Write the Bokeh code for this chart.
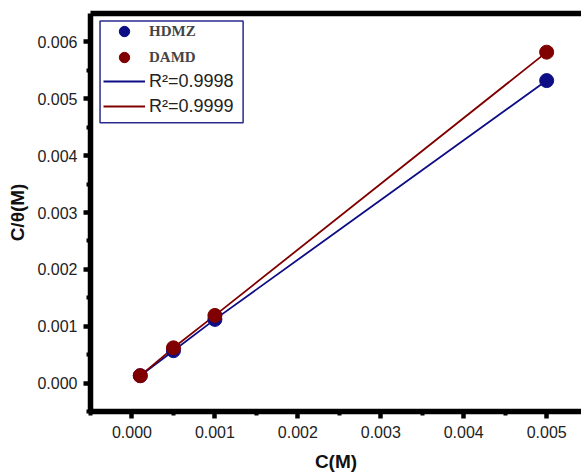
from bokeh.plotting import figure
from bokeh.models import (Legend, LegendItem, LinearAxis, Range1d, PrintfTickFormatter,
                          BoxAnnotation, FixedTicker)
from bokeh.embed import file_html
from bokeh.resources import INLINE

conc = [0.0001, 0.0005, 0.001, 0.005]
hdmz = [0.00013, 0.00057, 0.00112, 0.00532]
damd = [0.00013, 0.00062, 0.00119, 0.00582]
x_ticks = [0.000, 0.001, 0.002, 0.003, 0.004, 0.005]
y_ticks = [0.000, 0.001, 0.002, 0.003, 0.004, 0.005, 0.006]
series_names = ["HDMZ", "DAMD"]
fit_labels = ["R\u00b2=0.9998", "R\u00b2=0.9999"]

BLUE = "#0d0d85"
RED = "#800000"

p = figure(width=581, height=474, output_backend="svg", toolbar_location=None,
           x_range=Range1d(-0.0005, 0.00542), y_range=Range1d(-0.0005, 0.0065),
           min_border_left=90, min_border_right=0, min_border_top=13, min_border_bottom=62)
p.xgrid.visible = False
p.ygrid.visible = False
p.outline_line_color = None

l1 = p.line(conc, hdmz, line_color=BLUE, line_width=1.8)
l2 = p.line(conc, damd, line_color=RED, line_width=1.8)
s1 = p.scatter(conc, hdmz, size=14, fill_color=BLUE, line_color=BLUE)
s2 = p.scatter(conc, damd, size=14, fill_color=RED, line_color=RED)

for axs in [p.xaxis, p.yaxis]:
    axs.axis_line_width = 5.5
    axs.axis_line_color = "black"
    axs.major_tick_line_width = 4.5
    axs.minor_tick_line_width = 4
    axs.major_tick_line_color = "black"
    axs.minor_tick_line_color = "black"
    axs.major_tick_out = 7
    axs.major_tick_in = 0
    axs.minor_tick_out = 4
    axs.minor_tick_in = 0
    axs.major_label_text_font = "Liberation Sans"
    axs.major_label_text_font_size = "16px"
    axs.major_label_text_color = "#222222"
    axs.axis_label_text_font = "Liberation Sans"
    axs.axis_label_text_font_size = "19px"
    axs.axis_label_text_font_style = "bold"
    axs.axis_label_text_color = "#111111"
    axs.formatter = PrintfTickFormatter(format="%.3f")

p.xaxis.ticker = FixedTicker(ticks=x_ticks, minor_ticks=[t + 0.0005 for t in [-0.001] + x_ticks])
p.yaxis.ticker = FixedTicker(ticks=y_ticks, minor_ticks=[t + 0.0005 for t in [-0.001] + y_ticks])
p.xaxis.axis_label = "C(M)"
p.yaxis.axis_label = "C/\u03b8(M)"
p.xaxis.major_label_standoff = 7
p.xaxis.axis_label_standoff = 10
p.yaxis.major_label_standoff = 6
p.yaxis.axis_label_standoff = 6

top = LinearAxis(axis_line_width=5.5, axis_line_color="black",
                 ticker=FixedTicker(ticks=[], minor_ticks=[]),
                 major_tick_line_color=None, minor_tick_line_color=None)
p.add_layout(top, "above")

box = BoxAnnotation(left=-0.000385, right=0.00134, bottom=0.00458, top=0.00637,
                    fill_color=None, line_color="#2a2a90", line_width=1.5, line_alpha=1)
p.add_layout(box)

legA = Legend(items=[LegendItem(label=series_names[0], renderers=[s1]),
                     LegendItem(label=series_names[1], renderers=[s2])],
              location=(13, 341), border_line_color=None, background_fill_alpha=0,
              label_text_font="Liberation Serif", label_text_font_style="bold",
              label_text_font_size="15px", glyph_width=42, glyph_height=26,
              spacing=0, padding=0, margin=0, label_standoff=4)
legB = Legend(items=[LegendItem(label=fit_labels[0], renderers=[l1]),
                     LegendItem(label=fit_labels[1], renderers=[l2])],
              location=(13, 293), border_line_color=None, background_fill_alpha=0,
              label_text_font="Liberation Sans", label_text_font_size="18px",
              label_text_color="#222222",
              glyph_width=42, glyph_height=24, spacing=1, padding=0, margin=0,
              label_standoff=4)
p.add_layout(legA)
p.add_layout(legB)

open("out.html", "w").write(file_html(p, INLINE))
